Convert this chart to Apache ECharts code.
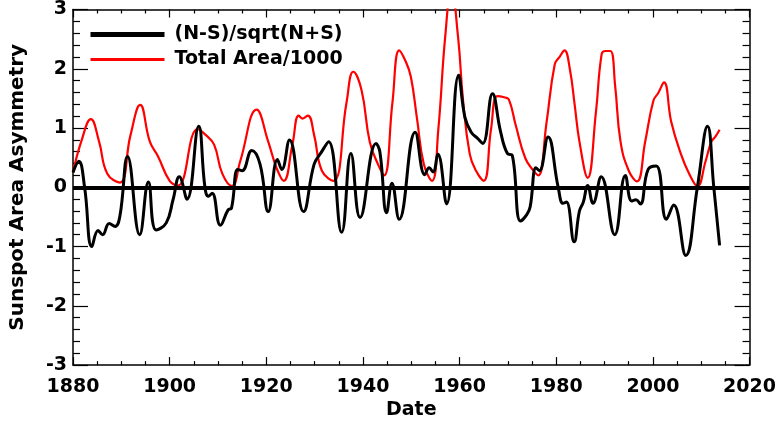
<!DOCTYPE html>
<html>
<head>
<meta charset="utf-8">
<script src="https://cdn.jsdelivr.net/npm/echarts@6/dist/echarts.min.js"></script>
<style>
html,body{margin:0;padding:0;background:#fff;}
#chart{width:779px;height:425px;}
</style>
</head>
<body>
<div id="chart"></div>
<script>
// (N-S)/sqrt(N+S)
const nsYears = [1880,1881.2,1882.4,1883.9,1885.2,1886.1,1887.5,1888.7,1889.7,1891.3,1893.8,1895.6,1897.2,1899.3,1900.7,1902.0,1903.6,1906.0,1907.3,1908.0,1908.8,1910.5,1912.1,1912.8,1914.1,1915.0,1917.0,1918.7,1920.4,1922.3,1923.2,1924.8,1927.7,1929.9,1931.3,1932.9,1935.6,1937.5,1939.4,1942.7,1943.5,1944.9,1946.0,1947.5,1950.8,1952.8,1953.7,1954.5,1955.5,1957.3,1959.8,1961.1,1962.4,1963.8,1964.8,1966.8,1968.5,1969.9,1970.9,1972.6,1973.9,1974.6,1975.8,1976.5,1978.3,1980.4,1981.4,1982.1,1983.7,1984.8,1985.6,1986.5,1987.6,1989.3,1992.1,1994.3,1995.6,1996.5,1997.4,1999.0,2000.7,2002.8,2004.3,2006.8,2009.2,2011.3,2012.6,2013.8];
const nsValues = [0.25,0.44,0,-1.0,-0.73,-0.8,-0.61,-0.66,-0.49,0.52,-0.8,0.09,-0.72,-0.6,-0.21,0.18,-0.2,1.03,0,-0.15,-0.1,-0.64,-0.38,-0.35,0.3,0.28,0.62,0.39,-0.41,0.47,0.3,0.8,-0.41,0.39,0.58,0.77,-0.76,0.57,-0.51,0.74,0.6,-0.43,0.07,-0.54,0.93,0.21,0.33,0.26,0.56,-0.28,1.89,1.18,0.93,0.82,0.74,1.58,0.93,0.57,0.54,-0.57,-0.46,-0.33,0.33,0.28,0.85,0,-0.27,-0.25,-0.92,-0.4,-0.25,0.03,-0.27,0.18,-0.8,0.2,-0.23,-0.21,-0.28,0.3,0.36,-0.54,-0.3,-1.15,0,1.03,0,-0.98];

// Total Area/1000
const areaYears = [1880,1881.7,1883.7,1885.4,1887.1,1889.7,1891.9,1893.9,1895.9,1897.6,1900.0,1901.7,1905.8,1907.5,1909.2,1910.9,1912.9,1914.6,1918.0,1920.4,1922.1,1923.6,1925.4,1926.7,1927.5,1928.6,1929.9,1931.5,1933.9,1936.6,1938.0,1939.7,1941.4,1943.1,1944.4,1946.1,1947.5,1948.8,1949.9,1951.2,1952.6,1954.3,1955.6,1957.0,1958.3,1959.7,1960.7,1962.1,1963.4,1965.0,1966.5,1967.8,1969.2,1970.2,1971.6,1973.6,1975.3,1976.3,1978.0,1979.7,1980.7,1981.7,1982.8,1983.8,1984.8,1986.5,1988.2,1989.4,1990.2,1991.2,1992.2,1993.3,1995.0,1996.7,1998.4,2000.1,2001.1,2002.3,2003.8,2005.8,2007.5,2009.2,2010.9,2012.1,2012.9,2013.8];
const areaValues = [0.25,0.77,1.15,0.77,0.23,0.08,0.88,1.39,0.77,0.52,0.11,0.03,0.98,0.88,0.72,0.23,0.02,0.44,1.31,0.77,0.33,0.11,0.72,1.21,1.16,1.21,0.88,0.28,0.11,1.43,1.95,1.64,0.77,0.39,0.2,1.43,2.31,2.13,1.87,1.15,0.39,0.11,0.98,2.52,3.35,2.52,1.48,0.56,0.28,0.11,0.98,1.54,1.52,1.48,1.05,0.49,0.28,0.2,1.1,2.08,2.2,2.31,2.0,1.4,0.77,0.16,1.26,2.25,2.3,2.3,1.7,0.77,0.28,0.1,0.77,1.46,1.59,1.77,1.1,0.56,0.23,0.02,0.44,0.77,0.85,0.97];

const xTicks = [1880,1900,1920,1940,1960,1980,2000,2020];
const yTicks = [-3,-2,-1,0,1,2,3];

const nsName = '(N-S)/sqrt(N+S)';
const areaName = 'Total Area/1000';

const pair = (xs, ys) => xs.map((x, i) => [x, ys[i]]);

const FONT = 'DejaVu Sans, Liberation Sans, Arial, sans-serif';
const chart = echarts.init(document.getElementById('chart'), null, {renderer: 'canvas'});

const axisLine = {show: true, onZero: false, lineStyle: {color: '#000', width: 1.5}};

chart.setOption({
  animation: false,
  backgroundColor: '#fff',
  textStyle: {fontFamily: FONT},
  grid: {left: 65, right: 26, top: 4, bottom: 55, containLabel: false},
  legend: {
    orient: 'vertical',
    left: 88,
    top: 25,
    padding: 0,
    itemWidth: 74,
    itemHeight: 14,
    itemGap: 6,
    textStyle: {fontFamily: FONT, fontSize: 19, fontWeight: 'bold', color: '#000', padding: [0, 0, 0, 5]},
    data: [
      {name: nsName, lineStyle: {width: 5, color: '#000'}, itemStyle: {opacity: 0}},
      {name: areaName, lineStyle: {width: 3, color: '#ff0000'}, itemStyle: {opacity: 0}}
    ]
  },
  xAxis: [{
    type: 'value', min: 1880, max: 2020, interval: 20,
    position: 'bottom',
    name: 'Date', nameLocation: 'middle', nameGap: 34,
    nameTextStyle: {fontFamily: FONT, fontSize: 19, fontWeight: 'bold', color: '#000'},
    axisLine: axisLine,
    axisTick: {show: true, inside: true, length: 8, lineStyle: {color: '#000', width: 1.2}},
    minorTick: {show: true, splitNumber: 4, length: 4, lineStyle: {color: '#000', width: 1.2}},
    axisLabel: {fontFamily: FONT, fontSize: 19, fontWeight: 'bold', color: '#000', margin: 12,
      formatter: v => xTicks.includes(v) ? String(v) : ''},
    splitLine: {show: false}
  }, {
    type: 'value', min: 1880, max: 2020, interval: 20,
    position: 'top',
    axisLine: axisLine,
    axisTick: {show: true, inside: true, length: 8, lineStyle: {color: '#000', width: 1.2}},
    minorTick: {show: true, splitNumber: 4, length: 4, lineStyle: {color: '#000', width: 1.2}},
    axisLabel: {show: false},
    splitLine: {show: false}
  }],
  yAxis: [{
    type: 'value', min: -3, max: 3, interval: 1,
    position: 'left',
    name: 'Sunspot Area Asymmetry', nameLocation: 'middle', nameGap: 45, nameRotate: 90,
    nameTextStyle: {fontFamily: FONT, fontSize: 20, fontWeight: 'bold', color: '#000'},
    axisLine: axisLine,
    axisTick: {show: true, inside: true, length: 15, lineStyle: {color: '#000', width: 1.2}},
    minorTick: {show: true, splitNumber: 5, length: 7, lineStyle: {color: '#000', width: 1.2}},
    axisLabel: {fontFamily: FONT, fontSize: 19, fontWeight: 'bold', color: '#000', margin: 6,
      formatter: v => yTicks.includes(v) ? String(v) : ''},
    splitLine: {show: false}
  }, {
    type: 'value', min: -3, max: 3, interval: 1,
    position: 'right',
    axisLine: axisLine,
    axisTick: {show: true, inside: true, length: 15, lineStyle: {color: '#000', width: 1.2}},
    minorTick: {show: true, splitNumber: 5, length: 7, lineStyle: {color: '#000', width: 1.2}},
    axisLabel: {show: false},
    splitLine: {show: false}
  }],
  series: [{
    name: areaName,
    type: 'line',
    xAxisIndex: 0, yAxisIndex: 0,
    data: pair(areaYears, areaValues),
    smooth: 0.45,
    showSymbol: false, symbol: 'none',
    clip: true,
    lineStyle: {color: '#ff0000', width: 2.2},
    itemStyle: {color: '#ff0000'},
    z: 2
  }, {
    name: nsName,
    type: 'line',
    xAxisIndex: 0, yAxisIndex: 0,
    data: pair(nsYears, nsValues),
    smooth: 0.45,
    showSymbol: false, symbol: 'none',
    clip: true,
    lineStyle: {color: '#000', width: 3},
    itemStyle: {color: '#000'},
    markLine: {
      silent: true, symbol: 'none',
      label: {show: false},
      lineStyle: {color: '#000', width: 4, type: 'solid'},
      data: [{yAxis: 0}]
    },
    z: 3
  }]
});
</script>
</body>
</html>
